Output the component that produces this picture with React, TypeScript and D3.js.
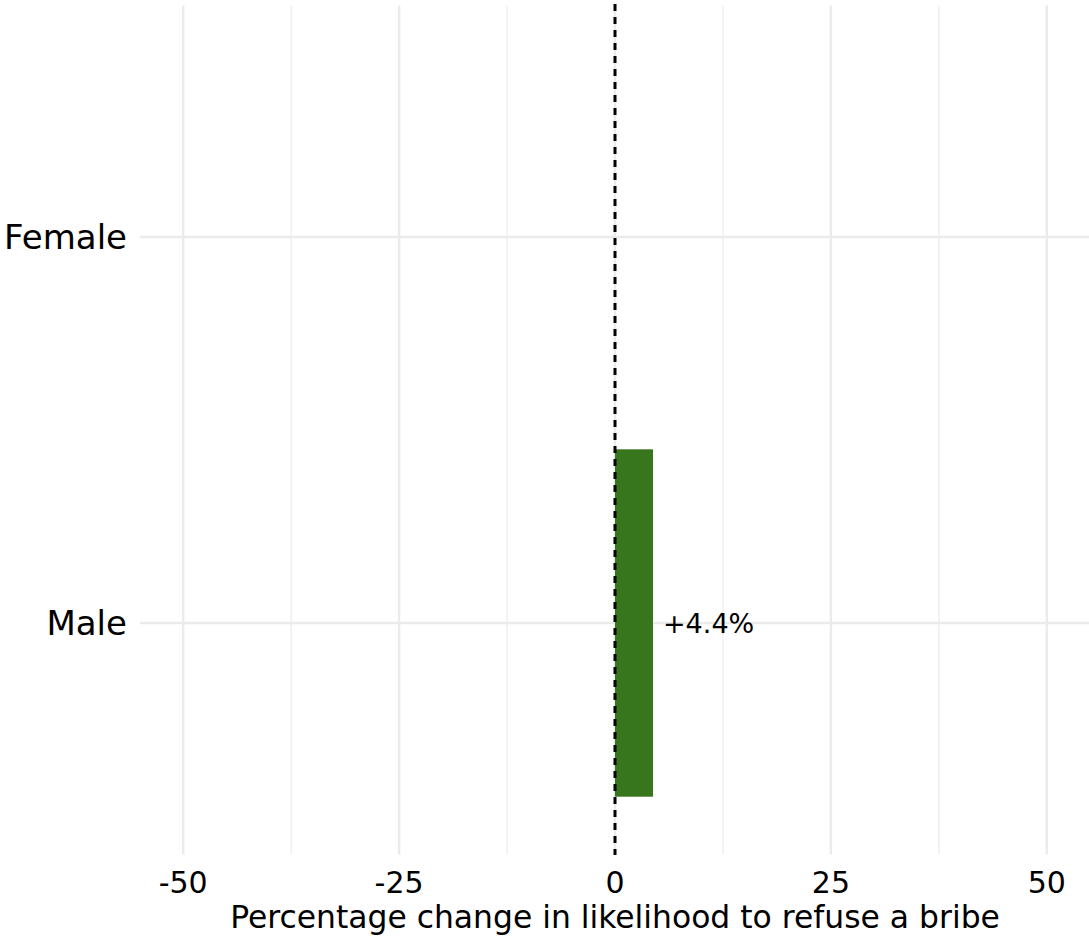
import React from "react";
import * as d3 from "d3";

const categories = ["Female", "Male"];
const values: (number | null)[] = [null, 4.4];
const labels: (string | null)[] = [null, "+4.4%"];
const majorTicks = [-50, -25, 0, 25, 50];
const minorTicks = [-37.5, -12.5, 12.5, 37.5];
const xTitle = "Percentage change in likelihood to refuse a bribe";

const W = 1089;
const H = 938;
const FONT = "'DejaVu Sans', sans-serif";

export default function App() {
  const x = d3.scaleLinear().domain([-55, 55]).range([140, 1090]);
  const y = d3
    .scaleBand<string>()
    .domain(categories)
    .range([5.4, 854.6])
    .paddingInner(0.1)
    .paddingOuter(0.15);
  const top = 5.4;
  const bottom = 854.6;
  const grid = "#ebebeb";
  return (
    <svg width={W} height={H} style={{ position: "absolute", left: 0, top: 0 }}>
      <rect width={W} height={H} fill="#fff" />
      {minorTicks.map((t) => (
        <line key={"mi" + t} x1={x(t)} x2={x(t)} y1={top} y2={bottom} stroke={grid} strokeWidth={1.2} />
      ))}
      {majorTicks.map((t) => (
        <line key={"ma" + t} x1={x(t)} x2={x(t)} y1={top} y2={bottom} stroke={grid} strokeWidth={2.4} />
      ))}
      {categories.map((c) => (
        <line
          key={"hg" + c}
          x1={140}
          x2={W}
          y1={y(c)! + y.bandwidth() / 2}
          y2={y(c)! + y.bandwidth() / 2}
          stroke={grid}
          strokeWidth={2.4}
        />
      ))}
      {categories.map((c, i) => {
        const v = values[i];
        if (v == null) return null;
        return (
          <rect
            key={"b" + c}
            x={Math.min(x(0), x(v))}
            y={y(c)!}
            width={Math.abs(x(v) - x(0))}
            height={y.bandwidth()}
            fill="#38761d"
          />
        );
      })}
      <line x1={x(0)} x2={x(0)} y1={4} y2={855} stroke="#000" strokeWidth={3} strokeDasharray="7 6" />
      {categories.map((c, i) => {
        const v = values[i];
        const l = labels[i];
        if (v == null || l == null) return null;
        return (
          <text
            key={"l" + c}
            x={x(v) + 10}
            y={y(c)! + y.bandwidth() / 2}
            dy="0.36em"
            fontFamily={FONT}
            fontSize={27}
            fill="#000"
          >
            {l}
          </text>
        );
      })}
      {categories.map((c) => (
        <text
          key={"yl" + c}
          x={127}
          y={y(c)! + y.bandwidth() / 2}
          dy="0.36em"
          textAnchor="end"
          fontFamily={FONT}
          fontSize={34}
          fill="#000"
        >
          {c}
        </text>
      ))}
      {majorTicks.map((t) => (
        <text
          key={"xl" + t}
          x={x(t)}
          y={893}
          textAnchor="middle"
          fontFamily={FONT}
          fontSize={30}
          fill="#000"
        >
          {t}
        </text>
      ))}
      <text x={615} y={928} textAnchor="middle" fontFamily={FONT} fontSize={31.4} fill="#000">
        {xTitle}
      </text>
    </svg>
  );
}
